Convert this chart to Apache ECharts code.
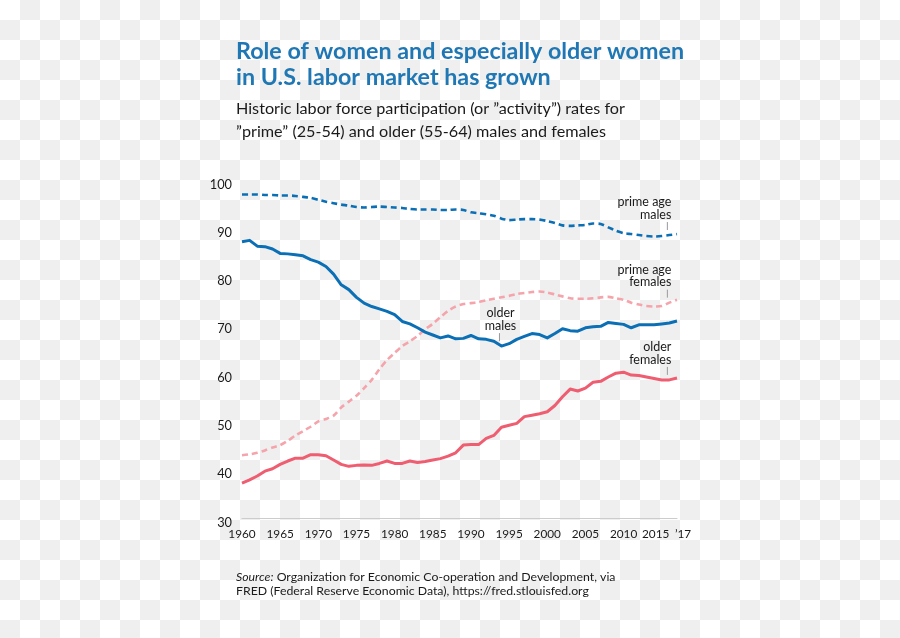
<!DOCTYPE html>
<html><head><meta charset="utf-8">
<script src="https://cdn.jsdelivr.net/npm/echarts@6/dist/echarts.min.js"></script>
<style>
html,body{margin:0;padding:0;}
body{width:900px;height:638px;background:repeating-conic-gradient(#efefef 0% 25%, #ffffff 0% 50%) 0 0/40px 40px;}
#c{width:900px;height:638px;}
</style></head><body><div id="c"></div>
<script>
const years = ['1960','1961','1962','1963','1964','1965','1966','1967','1968','1969',
'1970','1971','1972','1973','1974','1975','1976','1977','1978','1979',
'1980','1981','1982','1983','1984','1985','1986','1987','1988','1989',
'1990','1991','1992','1993','1994','1995','1996','1997','1998','1999',
'2000','2001','2002','2003','2004','2005','2006','2007','2008','2009',
'2010','2011','2012','2013','2014','2015','2016','2017'];

const primeMales = [97.0,97.0,97.0,96.9,96.9,96.8,96.8,96.7,96.5,96.3,
95.9,95.5,95.2,94.9,94.7,94.4,94.3,94.4,94.5,94.4,
94.3,94.2,94.0,93.9,93.9,93.9,93.8,93.8,93.9,93.8,
93.3,93.1,92.9,92.6,92.0,91.7,91.8,91.9,91.9,91.8,
91.5,91.1,90.6,90.5,90.6,90.7,91.0,90.9,90.2,89.5,
89.0,88.8,88.6,88.4,88.3,88.4,88.6,88.8];

const primeFemales = [43.0,43.2,43.5,44.0,44.6,45.1,46.0,47.1,48.0,48.9,
50.0,50.5,51.2,52.9,54.1,55.3,56.9,58.6,60.8,62.7,
64.2,65.6,66.6,67.7,69.1,70.2,71.6,72.9,73.8,74.3,
74.5,74.7,75.1,75.4,75.7,76.0,76.4,76.6,76.8,76.9,
76.7,76.3,75.9,75.5,75.4,75.4,75.5,75.7,75.8,75.5,
75.2,74.6,74.2,73.9,73.8,73.9,74.6,75.2];

const olderMales = [87.2,87.5,86.3,86.2,85.7,84.8,84.7,84.5,84.3,83.5,
83.0,82.1,80.5,78.3,77.3,75.7,74.5,73.8,73.3,72.8,
72.1,70.7,70.2,69.4,68.5,67.9,67.3,67.7,67.1,67.2,
67.8,67.1,67.0,66.6,65.6,66.1,67.0,67.6,68.2,68.0,
67.3,68.2,69.2,68.8,68.7,69.4,69.6,69.7,70.5,70.3,
70.1,69.4,70.0,70.0,70.0,70.2,70.4,70.8];

const olderFemales = [37.2,37.9,38.7,39.7,40.2,41.1,41.8,42.4,42.4,43.1,
43.1,42.9,42.0,41.1,40.7,40.9,41.0,40.9,41.3,41.8,
41.3,41.3,41.8,41.5,41.7,42.0,42.3,42.8,43.5,45.1,
45.2,45.2,46.5,47.1,48.8,49.2,49.6,51.0,51.3,51.6,
52.0,53.3,55.1,56.7,56.3,56.9,58.1,58.3,59.2,60.0,
60.2,59.6,59.5,59.2,58.9,58.6,58.6,59.0];

const yTicks = [30,40,50,60,70,80,90,100];
const xTickYears = ['1960','1965','1970','1975','1980','1985','1990','1995','2000','2005','2010','2015'];
const lastYear = '2017';
const lastYearLabel = '\u201917';

const FONT = "'Lato', sans-serif";
const BLUE = '#0b6fb5';
const PINK = '#ee5d70';
const PINK_LIGHT = '#f5a4ac';
const INK = '#1a1a1a';
const NB = '\u00A0';

const chart = echarts.init(document.getElementById('c'), null, {renderer:'canvas'});

const seriesDefs = [
  {name:'prime age males', data: primeMales, color: BLUE, dashed: true, note: 'prime age\nmales', noteYear:'2016', align:'right'},
  {name:'prime age females', data: primeFemales, color: PINK_LIGHT, dashed: true, note: 'prime age\nfemales', noteYear:'2016', align:'right'},
  {name:'older males', data: olderMales, color: BLUE, dashed: false, note: 'older\nmales', noteYear:'1994', align:'center'},
  {name:'older females', data: olderFemales, color: PINK, dashed: false, note: 'older\nfemales', noteYear:'2016', align:'right'}
];

const baseX = {
  type: 'category', data: years, boundaryGap: false,
  axisTick: {show: false}, splitLine: {show: false}
};

const option = {
  backgroundColor: 'transparent',
  animation: false,
  textStyle: {fontFamily: FONT},
  title: [
    {text: 'Role of women and especially older women\nin U.S. labor market has grown', left: 236, top: 38, padding: 0,
     textStyle: {fontFamily: FONT, fontSize: 23.3, fontWeight: 'bold', color: '#1f77b4', lineHeight: 26}},
    {text: 'Historic labor force participation (or \u201Dactivity\u201D) rates for\n\u201Dprime\u201D (25-54) and older (55-64) males and females', left: 236, top: 97, padding: 0,
     textStyle: {fontFamily: FONT, fontSize: 16.2, fontWeight: 'normal', color: INK, lineHeight: 23}},
    {text: '{i|Source:} Organization for Economic Co-operation and Development, via\nFRED (Federal Reserve Economic Data), https://fred.stlouisfed.org', left: 236, top: 570, padding: 0,
     textStyle: {fontFamily: FONT, fontSize: 12.3, fontWeight: 'normal', color: INK, lineHeight: 14,
       rich: {i: {fontStyle: 'italic', fontFamily: FONT, fontSize: 12.3, color: INK, lineHeight: 14}}}}
  ],
  grid: {left: 242, right: 223, top: 180, bottom: 120, containLabel: false},
  xAxis: [
    Object.assign({}, baseX, {
      axisLine: {show: true, lineStyle: {color: '#cccccc', width: 1}},
      axisLabel: {
        margin: 10, fontSize: 11.8, color: INK, fontFamily: FONT,
        interval: (i, v) => xTickYears.indexOf(v) >= 0,
        formatter: v => v === '2015' ? v + NB + NB + NB + NB : v
      }
    }),
    Object.assign({}, baseX, {
      position: 'bottom', offset: 0,
      axisLine: {show: false},
      axisLabel: {
        margin: 10, fontSize: 11.8, color: INK, fontFamily: FONT,
        showMaxLabel: true,
        interval: (i, v) => v === lastYear,
        formatter: v => NB + NB + NB + NB + lastYearLabel
      }
    })
  ],
  yAxis: {
    type: 'value', min: yTicks[0], max: yTicks[yTicks.length - 1], interval: 10,
    axisLine: {show: false}, axisTick: {show: false}, splitLine: {show: false},
    axisLabel: {margin: 10, color: INK, fontFamily: FONT,
      formatter: v => '{t|' + v + '}',
      rich: {t: {fontSize: 12.8, color: INK, fontFamily: FONT, padding: [9, 0, 0, 0]}}}
  },
  series: seriesDefs.map(s => ({
    name: s.name, type: 'line', data: s.data, symbol: 'none', smooth: s.dashed ? 0.25 : false,
    xAxisIndex: 0,
    lineStyle: {color: s.color, width: s.dashed ? 2.6 : 3, type: s.dashed ? [6, 4] : 'solid', cap: 'butt', join: 'round'},
    z: s.dashed ? 2 : 3
  }))
};

chart.setOption(option);

function placeNotes() {
  const elements = [];
  seriesDefs.forEach((s, idx) => {
    const yi = years.indexOf(s.noteYear);
    const p = chart.convertToPixel({seriesIndex: idx}, [yi, s.data[yi]]);
    const lx = p[0] - 2;
    const lb = p[1] - 5;
    const lt = lb - 8;
    elements.push({type: 'line', silent: true, shape: {x1: lx, y1: lt, x2: lx, y2: lb},
      style: {stroke: '#9a9a9a', lineWidth: 1}});
    elements.push({type: 'text', silent: true,
      style: {text: s.note, x: s.align === 'right' ? lx + 4 : lx + 1, y: lt - 1,
        align: s.align, verticalAlign: 'bottom', fontFamily: FONT, fontSize: 12.5, lineHeight: 12.5, fill: INK}});
  });
  chart.setOption({graphic: elements});
}
placeNotes();
</script></body></html>
